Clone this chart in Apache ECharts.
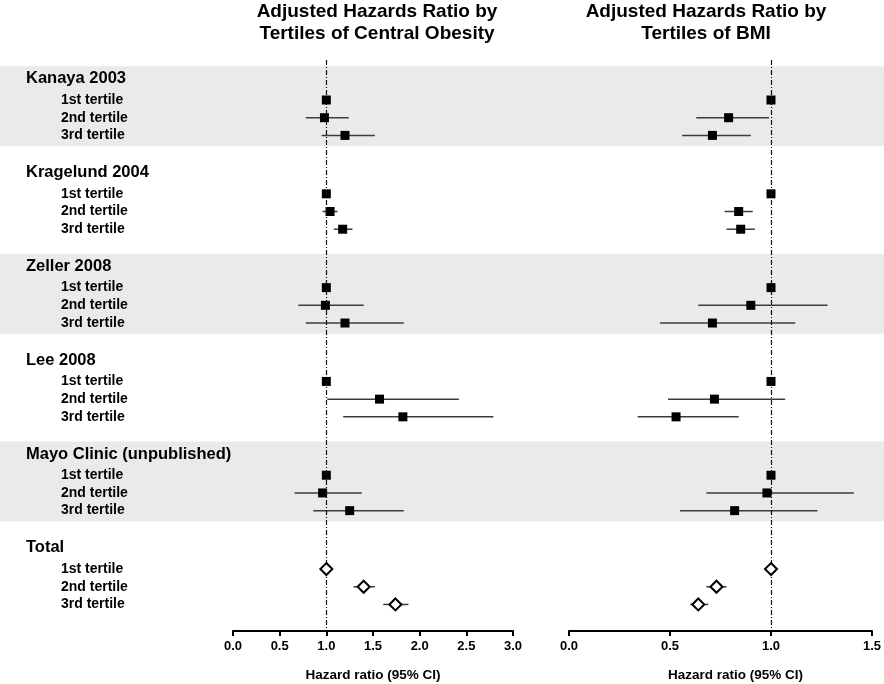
<!DOCTYPE html>
<html><head><meta charset="utf-8">
<script src="https://cdn.jsdelivr.net/npm/echarts@6/dist/echarts.min.js"></script>
<style>html,body{margin:0;padding:0;background:#fff}#c{width:884px;height:684px}</style>
</head><body><div id="c"></div>
<script>
// ---------- DATA ----------
const groups = ['Kanaya 2003', 'Kragelund 2004', 'Zeller 2008', 'Lee 2008', 'Mayo Clinic (unpublished)', 'Total'];
const tertiles = ['1st tertile', '2nd tertile', '3rd tertile'];
const xTicksObesity = [0, 0.5, 1.0, 1.5, 2.0, 2.5, 3.0];
const xTicksBMI = [0, 0.5, 1.0, 1.5];

// Central obesity (left panel), 6 groups x 3 tertiles
const obesityHR = [1.00, 0.98, 1.20,  1.00, 1.04, 1.175,  1.00, 0.99, 1.20,  1.00, 1.57, 1.82,  1.00, 0.96, 1.25,  1.00, 1.40, 1.74];
const obesityLo = [null, 0.78, 0.95,  null, 0.96, 1.08,   null, 0.70, 0.78,  null, 1.01, 1.18,  null, 0.66, 0.86,  null, 1.29, 1.61];
const obesityHi = [null, 1.24, 1.52,  null, 1.12, 1.28,   null, 1.40, 1.83,  null, 2.42, 2.79,  null, 1.38, 1.83,  null, 1.52, 1.88];

// BMI (right panel)
const bmiHR = [1.00, 0.79, 0.71,  1.00, 0.84, 0.85,  1.00, 0.90, 0.71,  1.00, 0.72, 0.53,  1.00, 0.98, 0.82,  1.00, 0.73, 0.64];
const bmiLo = [null, 0.63, 0.56,  null, 0.77, 0.78,  null, 0.64, 0.45,  null, 0.49, 0.34,  null, 0.68, 0.55,  null, 0.68, 0.60];
const bmiHi = [null, 0.99, 0.90,  null, 0.91, 0.92,  null, 1.28, 1.12,  null, 1.07, 0.84,  null, 1.41, 1.23,  null, 0.78, 0.69];

// ---------- LAYOUT (row units) ----------
const ROW_START = 2.26, GROUP_STEP = 5.3, HEADER_OFFSET = 1.2, Y_MAX = 32.26;
function rowY(g, t) { return ROW_START + GROUP_STEP * g + t; }
function headerY(g) { return ROW_START + GROUP_STEP * g - HEADER_OFFSET; }
const FONT = "'Liberation Sans', Arial, Helvetica, sans-serif";

const chart = echarts.init(document.getElementById('c'), null, { renderer: 'canvas' });

function panelSeries(hr, lo, hi, axisIdx) {
  const squares = [], diamonds = [], bars = [];
  for (let g = 0; g < groups.length; g++) {
    for (let t = 0; t < tertiles.length; t++) {
      const i = g * 3 + t;
      const y = rowY(g, t);
      if (g === groups.length - 1) diamonds.push([hr[i], y]); else squares.push([hr[i], y]);
      if (lo[i] != null) bars.push([lo[i], hi[i], y]);
    }
  }
  return [
    {
      type: 'custom', coordinateSystem: 'cartesian2d', xAxisIndex: axisIdx, yAxisIndex: axisIdx,
      z: 3, silent: true, clip: false,
      encode: { x: [0, 1], y: 2 },
      data: bars,
      renderItem: function (params, api) {
        const a = api.coord([api.value(0), api.value(2)]);
        const b = api.coord([api.value(1), api.value(2)]);
        return { type: 'line', shape: { x1: a[0], y1: a[1], x2: b[0], y2: b[1] },
                 style: { stroke: '#3c3c3c', lineWidth: 1.5 } };
      }
    },
    {
      type: 'scatter', xAxisIndex: axisIdx, yAxisIndex: axisIdx, z: 4, silent: true,
      symbol: 'rect', symbolSize: 9, itemStyle: { color: '#000', opacity: 1 },
      data: squares,
      markLine: {
        silent: true, symbol: 'none', label: { show: false },
        lineStyle: { type: [5, 2, 1, 2], color: '#111', width: 1.2, opacity: 1 },
        data: [{ xAxis: 1 }]
      }
    },
    {
      type: 'scatter', xAxisIndex: axisIdx, yAxisIndex: axisIdx, z: 5, silent: true,
      symbol: 'diamond', symbolSize: [12, 12],
      itemStyle: { color: '#fff', borderColor: '#000', borderWidth: 2, opacity: 1 },
      data: diamonds
    }
  ];
}

// bands for alternate groups
const bandData = [];
for (let g = 0; g < groups.length; g += 2) bandData.push([headerY(g) - 0.7, rowY(g, 2) + 0.6]);

// labels
const labelItems = [];
for (let g = 0; g < groups.length; g++) {
  labelItems.push({ y: headerY(g), text: groups[g], header: true });
  for (let t = 0; t < tertiles.length; t++) labelItems.push({ y: rowY(g, t), text: tertiles[t], header: false });
}

function xAxisCfg(gridIndex, max) {
  return {
    type: 'value', gridIndex: gridIndex, min: 0, max: max, interval: 0.5, position: 'bottom',
    splitLine: { show: false },
    axisLine: { show: true, onZero: false, lineStyle: { color: '#000', width: 2 } },
    axisTick: { show: true, length: 5, lineStyle: { color: '#000', width: 2 } },
    axisLabel: { color: '#000', fontWeight: 'bold', fontSize: 13, fontFamily: FONT, margin: 9,
                 formatter: v => v.toFixed(1) },
    name: 'Hazard ratio (95% CI)', nameLocation: 'middle', nameGap: 37,
    nameTextStyle: { color: '#000', fontWeight: 'bold', fontSize: 13.5, fontFamily: FONT,
                     padding: gridIndex === 1 ? [0, 0, 0, 30] : 0 }
  };
}

const option = {
  animation: false,
  backgroundColor: '#fff',
  title: [
    { text: 'Adjusted Hazards Ratio by\nTertiles of Central Obesity', left: 377, top: 1, textAlign: 'center', padding: 0,
      textStyle: { fontSize: 19, fontWeight: 'bold', color: '#000', fontFamily: FONT, lineHeight: 22 } },
    { text: 'Adjusted Hazards Ratio by\nTertiles of BMI', left: 706, top: 1, textAlign: 'center', padding: 0,
      textStyle: { fontSize: 19, fontWeight: 'bold', color: '#000', fontFamily: FONT, lineHeight: 22 } }
  ],
  grid: [
    { left: 233, right: 371, top: 60, bottom: 53, containLabel: false, outerBoundsMode: 'none' },
    { left: 569, right: 12, top: 60, bottom: 53, containLabel: false, outerBoundsMode: 'none' },
    { left: 0, right: 0, top: 60, bottom: 53, containLabel: false, outerBoundsMode: 'none' }
  ],
  xAxis: [
    xAxisCfg(0, 3),
    xAxisCfg(1, 1.5),
    { type: 'value', gridIndex: 2, min: 0, max: 1, show: false }
  ],
  yAxis: [0, 1, 2].map(i => ({ type: 'value', gridIndex: i, min: 0, max: Y_MAX, inverse: true, show: false })),
  series: [
    {
      type: 'custom', coordinateSystem: 'cartesian2d', xAxisIndex: 2, yAxisIndex: 2, z: 0, silent: true, clip: false,
      encode: { y: [0, 1] },
      data: bandData,
      renderItem: function (params, api) {
        const a = api.coord([0, api.value(0)]);
        const b = api.coord([1, api.value(1)]);
        return { type: 'rect', shape: { x: a[0], y: a[1], width: b[0] - a[0], height: b[1] - a[1] },
                 style: { fill: '#eaeaea' } };
      }
    },
    {
      type: 'custom', coordinateSystem: 'cartesian2d', xAxisIndex: 2, yAxisIndex: 2, z: 1, silent: true, clip: false,
      encode: { y: 0 },
      data: labelItems.map(d => [d.y]),
      renderItem: function (params, api) {
        const it = labelItems[params.dataIndex];
        const p = api.coord([0, api.value(0)]);
        return { type: 'text', x: it.header ? 26 : 61, y: p[1],
                 style: { text: it.text, fill: '#000', fontWeight: 'bold', fontFamily: FONT,
                          fontSize: it.header ? 16.5 : 14, verticalAlign: 'middle', align: 'left' } };
      }
    },
    ...panelSeries(obesityHR, obesityLo, obesityHi, 0),
    ...panelSeries(bmiHR, bmiLo, bmiHi, 1)
  ]
};
chart.setOption(option);
</script>
</body></html>
